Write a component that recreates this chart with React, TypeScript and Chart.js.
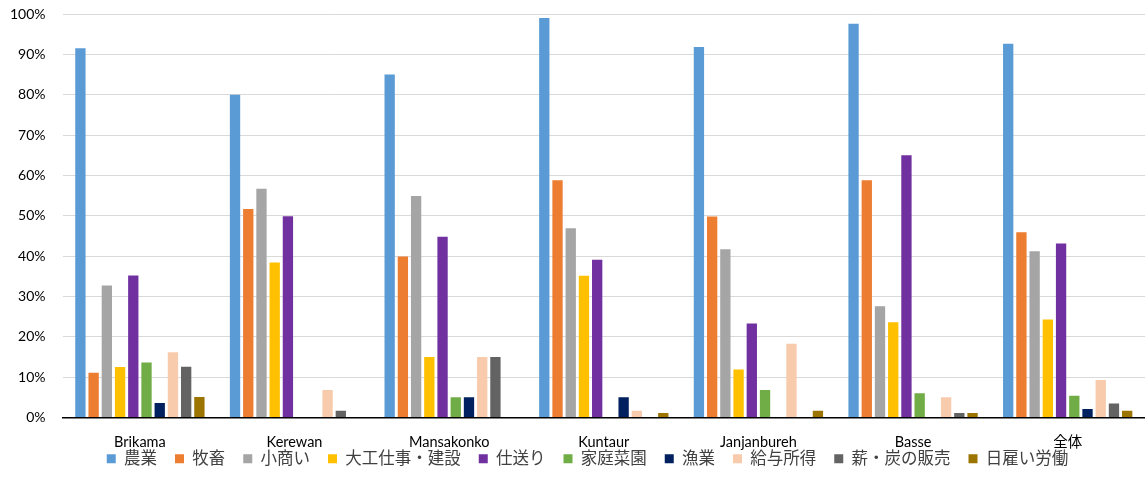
import React, { useEffect, useRef } from "react";
import { Chart, registerables } from "chart.js";

Chart.register(...registerables);

const regions = ["Brikama", "Kerewan", "Mansakonko", "Kuntaur", "Janjanbureh", "Basse", "全体"];

const seriesNames = ["農業", "牧畜", "小商い", "大工仕事・建設", "仕送り", "家庭菜園", "漁業", "給与所得", "薪・炭の販売", "日雇い労働"];
const seriesColors = ["#5b9bd5", "#ed7d31", "#a5a5a5", "#ffc000", "#7030a0", "#70ad47", "#002060", "#f8cbad", "#636363", "#9c7400"];

// percentage of households per income source, one array per source, ordered by region
const farming = [91.5, 80.0, 85.0, 99.0, 91.8, 97.6, 92.6];
const livestock = [11.1, 51.7, 39.9, 58.8, 49.8, 58.8, 45.9];
const pettyTrade = [32.7, 56.7, 54.9, 46.9, 41.7, 27.6, 41.2];
const carpentry = [12.5, 38.4, 15.0, 35.1, 11.9, 23.6, 24.3];
const remittances = [35.2, 49.9, 44.8, 39.1, 23.3, 65.0, 43.1];
const homeGarden = [13.6, 0, 5.0, 0, 6.8, 6.0, 5.4];
const fishing = [3.6, 0, 5.0, 5.0, 0, 0, 2.1];
const salary = [16.2, 6.8, 15.0, 1.7, 18.3, 5.0, 9.3];
const firewood = [12.6, 1.7, 15.0, 0, 0, 1.1, 3.5];
const dayLabour = [5.1, 0, 0, 1.1, 1.7, 1.1, 1.7];

const seriesValues = [farming, livestock, pettyTrade, carpentry, remittances, homeGarden, fishing, salary, firewood, dayLabour];

const fontFamily = "Lato, 'Noto Sans CJK JP', sans-serif";

// nudges the legend row a little to the right of the canvas centre
const legendShift = {
  id: "legendShift",
  afterLayout(chart: any) {
    const legend = chart.legend;
    if (legend) {
      legend.left += 9;
      legend.right += 9;
    }
  },
};

export default function App() {
  const canvasRef = useRef<HTMLCanvasElement | null>(null);

  useEffect(() => {
    document.body.style.margin = "0";
    const ctx = canvasRef.current;
    if (!ctx) return;
    const chart = new Chart(ctx, {
      type: "bar",
      data: {
        labels: regions,
        datasets: seriesNames.map((name, i) => ({
          label: name,
          data: seriesValues[i],
          backgroundColor: seriesColors[i],
          borderWidth: 0,
          categoryPercentage: 0.855,
          barPercentage: 0.78,
        })),
      },
      plugins: [legendShift],
      options: {
        animation: false,
        responsive: false,
        maintainAspectRatio: false,
        layout: { padding: { top: 0, right: -2, left: 10, bottom: 23 } },
        plugins: {
          legend: {
            position: "bottom",
            labels: {
              boxWidth: 9,
              boxHeight: 9,
              padding: 18,
              color: "#404040",
              font: { family: fontFamily, size: 16.5 },
            },
          },
          tooltip: { enabled: false },
        },
        scales: {
          x: {
            grid: { display: false, drawTicks: false },
            border: { display: true, color: "#000000", width: 1.5 },
            ticks: {
              color: "#000000",
              padding: 16,
              font: { family: fontFamily, size: 14.5 },
            },
            // keep the band between the category labels and the legend tight,
            // and let the labels draw outside the shortened axis box
            afterFit: (scale: any) => {
              scale.height = 15;
              scale._computeLabelArea = () => undefined;
            },
          },
          y: {
            min: 0,
            max: 100,
            grid: { color: "#d9d9d9", lineWidth: 1, drawTicks: false },
            border: { display: false },
            ticks: {
              stepSize: 10,
              padding: 17,
              color: "#000000",
              font: { family: fontFamily, size: 14 },
              callback: (v: any) => `${v}%`,
            },
            // only the gap between labels and plot, not on the outer side
            afterFit: (scale: any) => {
              scale.width -= 17;
              scale.paddingTop = 14;
              scale.paddingBottom = 0;
              scale._computeLabelArea = () => undefined;
            },
          },
        },
      },
    });
    return () => chart.destroy();
  }, []);

  return (
    <div style={{ position: "absolute", left: 0, top: 0, width: 1145, height: 500, background: "#fff" }}>
      <canvas ref={canvasRef} width={1145} height={500} />
    </div>
  );
}
